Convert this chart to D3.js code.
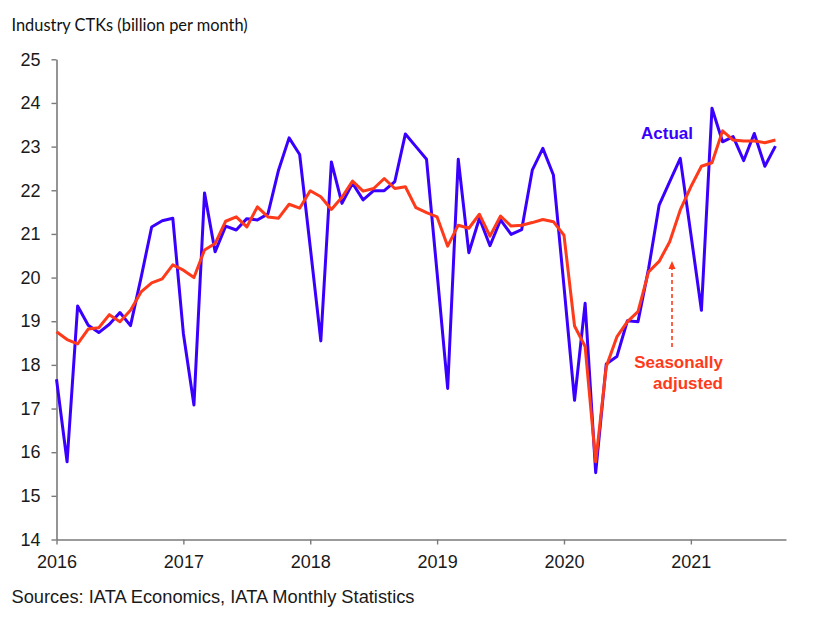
<!DOCTYPE html>
<html>
<head>
<meta charset="utf-8">
<script src="https://cdn.jsdelivr.net/npm/d3@7"></script>
<style>
  html, body { margin: 0; padding: 0; background: #fff; }
  svg { display: block; }
</style>
</head>
<body>
<svg id="chart" width="836" height="626"></svg>
<script>
// ---- Data (monthly, Jan 2016 – Sep 2021) ----
const startYear = 2016;
const yearLabels = ["2016", "2017", "2018", "2019", "2020", "2021"];
const yTicks = [14, 15, 16, 17, 18, 19, 20, 21, 22, 23, 24, 25];

const actual = [
  17.67, 15.78, 19.35, 18.91, 18.74, 18.93, 19.20, 18.90, 20.00, 21.16, 21.30, 21.36, // 2016
  18.72, 17.08, 21.94, 20.59, 21.18, 21.09, 21.35, 21.32, 21.46, 22.46, 23.20, 22.82, // 2017
  20.70, 18.55, 22.65, 21.70, 22.16, 21.78, 21.99, 21.99, 22.20, 23.29, 23.00, 22.71, // 2018
  20.10, 17.46, 22.71, 20.57, 21.36, 20.73, 21.32, 20.99, 21.10, 22.46, 22.96, 22.35, // 2019
  19.80, 17.19, 19.41, 15.53, 18.02, 18.19, 19.01, 18.99, 20.20, 21.66, 22.20, 22.73, // 2020
  21.00, 19.25, 23.88, 23.11, 23.23, 22.68, 23.30, 22.55, 23.01                       // 2021
];

const seasonallyAdjusted = [
  18.76, 18.58, 18.48, 18.82, 18.85, 19.15, 18.99, 19.25, 19.67, 19.88, 19.97, 20.29, // 2016
  20.17, 20.00, 20.63, 20.78, 21.29, 21.39, 21.16, 21.62, 21.39, 21.36, 21.68, 21.59, // 2017
  21.99, 21.85, 21.56, 21.84, 22.21, 21.98, 22.04, 22.27, 22.04, 22.08, 21.60, 21.49, // 2018
  21.39, 20.72, 21.20, 21.13, 21.45, 20.95, 21.41, 21.18, 21.20, 21.26, 21.33, 21.28, // 2019
  20.97, 18.89, 18.42, 15.78, 17.96, 18.64, 18.99, 19.22, 20.13, 20.37, 20.82, 21.55, // 2020
  22.08, 22.55, 22.63, 23.36, 23.15, 23.13, 23.13, 23.09, 23.15                       // 2021
];

const titleText = "Industry CTKs (billion per month)";
const sourceText = "Sources: IATA Economics, IATA Monthly Statistics";

// ---- Setup ----
const BLUE = "#3a00ff";
const RED = "#ff3a1a";
const AXIS = "#7a7a7a";
const FONT = "'Liberation Sans', Arial, sans-serif";

const svg = d3.select("#chart");

const x = d3.scaleLinear().domain([0, 69]).range([56.5, 786]);
const y = d3.scaleLinear().domain([14, 25]).range([539.5, 59.3]);

// Title
svg.append("text")
  .attr("x", 11.5).attr("y", 31)
  .attr("font-family", "Lato, 'Open Sans', sans-serif")
  .attr("font-size", 16.4)
  .attr("fill", "#111")
  .text(titleText);

// Y axis
const yAxis = d3.axisLeft(y).tickValues(yTicks).tickFormat(d3.format("d"))
  .tickSize(5).tickSizeOuter(0).tickPadding(11);
const gy = svg.append("g").attr("transform", `translate(${x(0)},0)`).call(yAxis);
gy.select(".domain").attr("stroke", AXIS).attr("stroke-width", 1.6);
gy.selectAll(".tick line").attr("stroke", AXIS).attr("stroke-width", 1.4);
gy.selectAll(".tick text").attr("font-family", FONT).attr("font-size", 18).attr("fill", "#1a1a1a");

// X axis
const xAxis = d3.axisBottom(x)
  .tickValues(yearLabels.map((d, i) => i * 12))
  .tickFormat((d) => yearLabels[d / 12])
  .tickSize(5).tickSizeOuter(0).tickPadding(11);
const gx = svg.append("g").attr("transform", `translate(0,${y(14)})`).call(xAxis);
gx.select(".domain").attr("stroke", AXIS).attr("stroke-width", 1.6);
gx.selectAll(".tick line").attr("stroke", AXIS).attr("stroke-width", 1.4);
gx.selectAll(".tick text").attr("font-family", FONT).attr("font-size", 18).attr("fill", "#1a1a1a");

// Lines
const line = d3.line().x((d, i) => x(i)).y((d) => y(d));

svg.append("path").datum(actual)
  .attr("fill", "none").attr("stroke", BLUE).attr("stroke-width", 3)
  .attr("stroke-linejoin", "round").attr("d", line);

svg.append("path").datum(seasonallyAdjusted)
  .attr("fill", "none").attr("stroke", RED).attr("stroke-width", 3)
  .attr("stroke-linejoin", "round").attr("d", line);

// Annotations
svg.append("text")
  .attr("x", 641).attr("y", 138.5)
  .attr("font-family", FONT).attr("font-weight", "bold").attr("font-size", 17)
  .attr("fill", BLUE).text("Actual");

const sa = svg.append("text")
  .attr("font-family", FONT).attr("font-weight", "bold").attr("font-size", 17)
  .attr("fill", RED).attr("text-anchor", "end");
sa.append("tspan").attr("x", 723).attr("y", 367.5).text("Seasonally");
sa.append("tspan").attr("x", 723).attr("y", 388.5).text("adjusted");

// Arrow (dashed, pointing up to the seasonally adjusted line)
const ax = 672;
svg.append("line")
  .attr("x1", ax).attr("x2", ax).attr("y1", 347).attr("y2", 268)
  .attr("stroke", RED).attr("stroke-width", 1.6).attr("stroke-dasharray", "4,3");
svg.append("path")
  .attr("d", `M${ax - 3.5},${269} L${ax},${261} L${ax + 3.5},${269} Z`)
  .attr("fill", RED);

// Source
svg.append("text")
  .attr("x", 11.5).attr("y", 602.5)
  .attr("font-family", FONT).attr("font-size", 18.3)
  .attr("fill", "#1a1a1a")
  .text(sourceText);
</script>
</body>
</html>
